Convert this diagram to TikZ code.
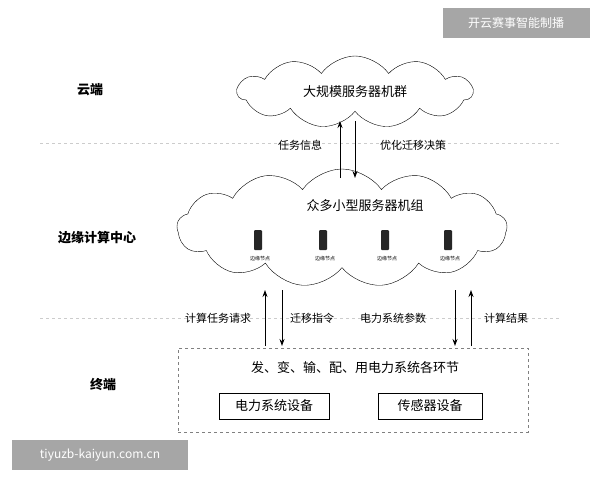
\documentclass[tikz,border=0pt]{standalone}
\usepackage{fontspec}
\setmainfont{Noto Sans CJK SC}
\usetikzlibrary{shapes.symbols,arrows.meta}
\begin{document}
\begin{tikzpicture}[x=1pt,y=-1pt,
  cloudn/.style={cloud,draw,cloud puffs=11,cloud puff arc=110,aspect=3,inner sep=0pt},
  lvl/.style={font=\bfseries\fontsize{13}{15}\selectfont},
  lab/.style={font=\fontsize{11}{13}\selectfont},
  arr/.style={-{Stealth[length=7pt,width=5pt]},line width=0.9pt},
  sep/.style={gray!40,dashed},
  server/.style={fill=black!85,minimum width=8pt,minimum height=20pt,inner sep=0pt,rounded corners=1pt},
  tiny/.style={font=\fontsize{5}{6}\selectfont},
  wm/.style={fill=gray!70,text=white,inner sep=0pt}]
\useasboundingbox (0,0) rectangle (600,480);
\fill[white] (0,0) rectangle (600,480);
% watermarks
\node[wm,minimum width=147pt,minimum height=30pt,font=\fontsize{12}{14}\selectfont] (wm1) at (516,23) {开云赛事智能制播};
\node[wm,minimum width=176pt,minimum height=30pt,font=\fontsize{12}{14}\selectfont] (wm2) at (100,455) {tiyuzb-kaiyun.com.cn};
% level labels
\node[lvl] (l1) at (90,90) {云端};
\node[lvl] (l2) at (97,238) {边缘计算中心};
\node[lvl] (l3) at (103,385) {终端};
\draw[sep] (40,143) -- (560,143);
\draw[sep] (40,318) -- (560,318);
% clouds
\node[cloudn,minimum width=235pt,minimum height=72pt] (c1) at (355,92) {};
\node[font=\fontsize{13}{15}\selectfont] (t1) at (355,92) {大规模服务器机群};
\node[cloudn,minimum width=330pt,minimum height=118pt,cloud puffs=13] (c2) at (342,228) {};
\node[font=\fontsize{13}{15}\selectfont] (t2) at (365,206) {众多小型服务器机组};
\foreach \x/\n in {258/a,323/b,385/c,448/d}{
  \node[server] (s\n) at (\x,240) {};
  \node[tiny] (e\n) at (\x+2,259) {边缘节点};
}
% arrows cloud1-cloud2
\coordinate (a1b) at (340,178); \coordinate (a1t) at (340,121);
\coordinate (a2t) at (355,121); \coordinate (a2b) at (355,178);
\draw[arr] (a1b) -- (a1t);
\draw[arr] (a2t) -- (a2b);
\node[lab] (ti) at (300,145) {任务信息};
\node[lab] (yh) at (413,145) {优化迁移决策};
% bottom box
\node[draw,dashed,gray,minimum width=350pt,minimum height=84pt] (box) at (353,390) {};
\node[font=\fontsize{13}{15}\selectfont] (bt) at (355,368) {发、变、输、配、用电力系统各环节};
\node[draw,line width=0.8pt,minimum width=110pt,minimum height=26pt,font=\fontsize{13}{15}\selectfont] (d1) at (274,406) {电力系统设备};
\node[draw,line width=0.8pt,minimum width=104pt,minimum height=26pt,font=\fontsize{13}{15}\selectfont] (d2) at (430,406) {传感器设备};
% arrows cloud2-box
\coordinate (b1b) at (265,346); \coordinate (b1t) at (265,290);
\coordinate (b2t) at (282,290); \coordinate (b2b) at (282,346);
\coordinate (b3t) at (455,290); \coordinate (b3b) at (455,346);
\coordinate (b4b) at (471,346); \coordinate (b4t) at (471,290);
\draw[arr] (b1b) -- (b1t);
\draw[arr] (b2t) -- (b2b);
\draw[arr] (b3t) -- (b3b);
\draw[arr] (b4b) -- (b4t);
\node[lab] (q1) at (218,318) {计算任务请求};
\node[lab] (q2) at (312,318) {迁移指令};
\node[lab] (q3) at (393,318) {电力系统参数};
\node[lab] (q4) at (506,318) {计算结果};
\end{tikzpicture}
\end{document}
